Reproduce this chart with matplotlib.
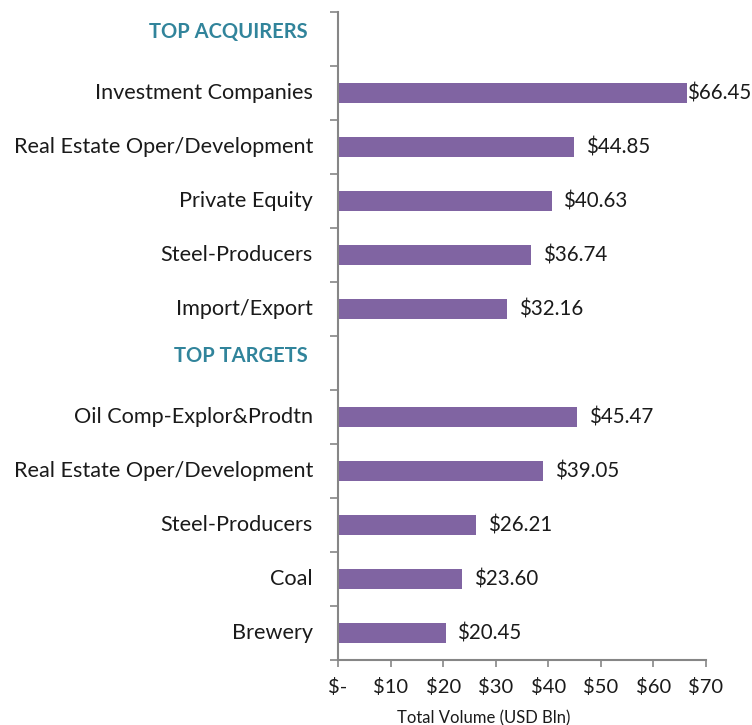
import matplotlib
matplotlib.use("Agg")
import matplotlib.pyplot as plt
import numpy as np

plt.rcParams['font.family'] = ['Lato', 'DejaVu Sans']

headers = ["TOP ACQUIRERS", "TOP TARGETS"]
acquirers = ["Investment Companies", "Real Estate Oper/Development", "Private Equity",
             "Steel-Producers", "Import/Export"]
acquirer_values = [66.45, 44.85, 40.63, 36.74, 32.16]
targets = ["Oil Comp-Explor&Prodtn", "Real Estate Oper/Development", "Steel-Producers",
           "Coal", "Brewery"]
target_values = [45.47, 39.05, 26.21, 23.60, 20.45]
xticks = [0, 10, 20, 30, 40, 50, 60, 70]
xtick_labels = ["$-", "$10", "$20", "$30", "$40", "$50", "$60", "$70"]

bar_color = "#8064A2"
header_color = "#31849B"
spine_color = "#868686"
text_color = "#1a1a1a"

labels = [headers[0]] + acquirers + [headers[1]] + targets
values = [None] + acquirer_values + [None] + target_values
n = len(labels)
ypos = np.arange(n)

fig = plt.figure(figsize=(7.52, 7.25), dpi=100)
ax = fig.add_axes([338/752, 1-660/725, 368/752, 648/725])

for y, v in zip(ypos, values):
    if v is None:
        continue
    ax.barh(y, v, height=0.38, color=bar_color)

ax.set_ylim(n - 0.5, -0.5)
ax.set_xlim(0, 70)

ax.set_yticks(ypos)
ax.set_yticklabels([])
ax.tick_params(axis='y', length=0)
for y, lab, v in zip(ypos, labels, values):
    if v is None:
        ax.annotate(lab, xy=(0, y), xycoords=('axes fraction', 'data'),
                    xytext=(-22, 5), textcoords='offset points', ha='right', va='center',
                    fontsize=14.5, fontweight='bold', color=header_color)
    else:
        ax.annotate(lab, xy=(0, y), xycoords=('axes fraction', 'data'),
                    xytext=(-18, 0), textcoords='offset points', ha='right', va='center',
                    fontsize=15.6, color=text_color)
        off = 8.5 if v < 60 else -0.5
        ax.annotate(f"${v:.2f}", xy=(v, y), xytext=(off, 0), textcoords='offset points',
                    ha='left', va='center', fontsize=14.8, color=text_color)

ax.set_yticks(np.arange(-0.5, n, 1.0), minor=True)
ax.tick_params(axis='y', which='minor', length=6, width=1.2, color=spine_color, direction='out')

ax.set_xticks(xticks)
ax.set_xticklabels(xtick_labels, fontsize=14.5, color=text_color)
ax.tick_params(axis='x', length=5, width=1.2, color=spine_color, direction='out', pad=8)
ax.set_xlabel("Total Volume (USD Bln)", fontsize=12, color=text_color)
ax.xaxis.set_label_coords((484 - 338) / 368, -0.077)

for s in ['top', 'right']:
    ax.spines[s].set_visible(False)
for s in ['left', 'bottom']:
    ax.spines[s].set_color(spine_color)
    ax.spines[s].set_linewidth(1.5)

fig.savefig("out.png", dpi=100)
